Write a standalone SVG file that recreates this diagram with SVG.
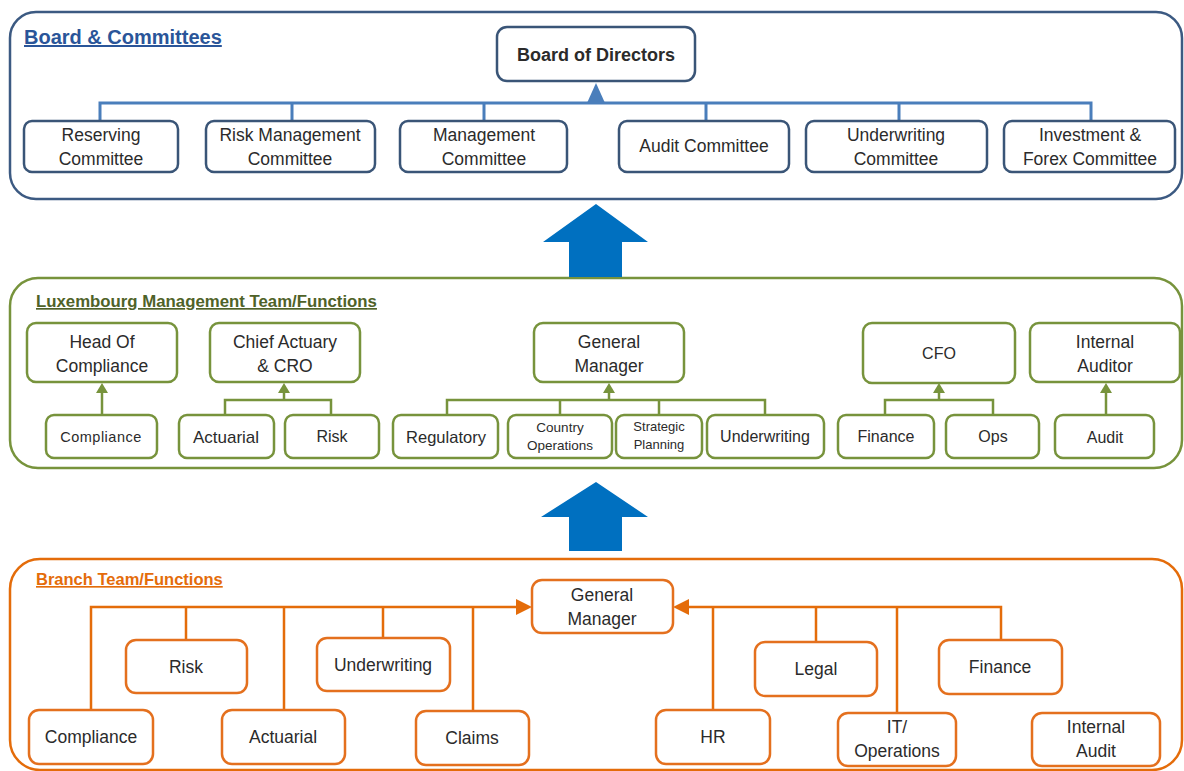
<svg xmlns="http://www.w3.org/2000/svg" width="1184" height="771" viewBox="0 0 1184 771">
<style>
text{font-family:"Liberation Sans",Arial,sans-serif;fill:#2b2b2b;text-anchor:middle}
.t{font-size:17.5px}
.s{font-size:16px}
.xs{font-size:13.5px}
.title{font-weight:bold;text-anchor:start;text-decoration:underline}
.cb{fill:none;stroke:#3c5a82;stroke-width:2.5}
.cg{fill:none;stroke:#77933c;stroke-width:2.5}
.co{fill:none;stroke:#e46c0a;stroke-width:2.5}
.nb rect{fill:#fff;stroke:#3a5577;stroke-width:2.5}
.ng rect{fill:#fff;stroke:#77933c;stroke-width:2.5}
.no rect{fill:#fff;stroke:#e4701e;stroke-width:2.5}
.lb{fill:none;stroke:#4a7ebb;stroke-width:3}
.lg{fill:none;stroke:#77933c;stroke-width:2.5}
.lo{fill:none;stroke:#e46c0a;stroke-width:2.5}
.big{fill:#0070c0}
</style>
<defs>
<marker id="ag" markerUnits="userSpaceOnUse" markerWidth="12" markerHeight="12" viewBox="0 0 10 12" refX="0" refY="6" orient="auto"><path d="M0,0 L10,6 L0,12 z" fill="#77933c"/></marker>
<marker id="ao" markerUnits="userSpaceOnUse" markerWidth="16" markerHeight="16" viewBox="0 0 16 16" refX="0" refY="8" orient="auto"><path d="M0,0 L16,8 L0,16 z" fill="#e46c0a"/></marker>
</defs>

<g id="containers">
<rect class="cb" x="10" y="12" width="1172" height="187" rx="26"/>
<rect class="cg" x="10" y="278" width="1172" height="190" rx="28"/>
<rect class="co" x="10" y="559" width="1172" height="211" rx="30"/>
<text class="title" x="24" y="44" style="font-size:20px;fill:#2a5599">Board &amp; Committees</text>
<text class="title" x="36" y="307" style="font-size:16.8px;fill:#4f6228">Luxembourg Management Team/Functions</text>
<text class="title" x="36" y="585" style="font-size:16.5px;fill:#e46c0a">Branch Team/Functions</text>
</g>

<g id="big-arrows">
<polygon class="big" points="596,204 543,242 569,242 569,277 622,277 622,242 648,242"/>
<polygon class="big" points="596,482 541,517 569,517 569,551 622,551 622,517 648,517"/>
</g>

<g id="connectors">
<path class="lb" d="M100,121 V103 H1091 V121 M292,103 V121 M484,103 V121 M706,103 V121 M899,103 V121"/>
<polygon points="587,103 605,103 596,83" fill="#4a7ebb"/>
<path class="lg" d="M102,415 V393" marker-end="url(#ag)"/>
<path class="lg" d="M225,415 V400 H331 V415"/>
<path class="lg" d="M284,400 V393" marker-end="url(#ag)"/>
<path class="lg" d="M447,415 V400 H765 V415 M560,400 V415 M659,400 V415"/>
<path class="lg" d="M609,400 V393" marker-end="url(#ag)"/>
<path class="lg" d="M885,415 V400 H993 V415"/>
<path class="lg" d="M939,400 V393" marker-end="url(#ag)"/>
<path class="lg" d="M1106,415 V393" marker-end="url(#ag)"/>
<path class="lo" d="M91,710 V607 H516" marker-end="url(#ao)"/>
<path class="lo" d="M186,607 V640 M284,607 V710 M383,607 V638 M473,607 V712"/>
<path class="lo" d="M1001,640 V607 H689" marker-end="url(#ao)"/>
<path class="lo" d="M713,607 V710 M816,607 V642 M897,607 V713"/>
</g>

<g id="board" class="nb"><rect x="497" y="27" width="198" height="54" rx="10"/><text x="596" y="61" style="font-size:18px;font-weight:bold">Board of Directors</text></g>
<g id="reserving" class="nb"><rect x="24" y="121" width="154" height="51" rx="8"/><text class="t" x="101" y="141">Reserving</text><text class="t" x="101" y="165">Committee</text></g>
<g id="riskmgmt" class="nb"><rect x="206" y="121" width="169" height="51" rx="8"/><text class="t" x="290" y="141">Risk Management</text><text class="t" x="290" y="165">Committee</text></g>
<g id="mgmt" class="nb"><rect x="400" y="121" width="167" height="51" rx="8"/><text class="t" x="484" y="141">Management</text><text class="t" x="484" y="165">Committee</text></g>
<g id="audit-comm" class="nb"><rect x="619" y="121" width="170" height="51" rx="8"/><text class="t" x="704" y="152">Audit Committee</text></g>
<g id="uw-comm" class="nb"><rect x="806" y="121" width="181" height="51" rx="8"/><text class="t" x="896" y="141">Underwriting</text><text class="t" x="896" y="165">Committee</text></g>
<g id="inv-comm" class="nb"><rect x="1004" y="121" width="171" height="51" rx="8"/><text class="t" x="1090" y="141">Investment &amp;</text><text class="t" x="1090" y="165">Forex Committee</text></g>

<g id="head-compliance" class="ng"><rect x="27" y="323" width="150" height="59" rx="9"/><text class="t" x="102" y="348">Head Of</text><text class="t" x="102" y="372">Compliance</text></g>
<g id="chief-actuary" class="ng"><rect x="210" y="323" width="150" height="59" rx="9"/><text class="t" x="285" y="348">Chief Actuary</text><text class="t" x="285" y="372">&amp; CRO</text></g>
<g id="lux-gm" class="ng"><rect x="534" y="323" width="150" height="59" rx="9"/><text class="t" x="609" y="348">General</text><text class="t" x="609" y="372">Manager</text></g>
<g id="cfo" class="ng"><rect x="863" y="323" width="152" height="60" rx="9"/><text class="s" x="939" y="359">CFO</text></g>
<g id="int-auditor" class="ng"><rect x="1030" y="323" width="150" height="59" rx="9"/><text class="t" x="1105" y="348">Internal</text><text class="t" x="1105" y="372">Auditor</text></g>
<g id="lux-compliance" class="ng"><rect x="46" y="415" width="111" height="43" rx="8"/><text x="101" y="442" style="font-size:14.5px;letter-spacing:0.5px">Compliance</text></g>
<g id="lux-actuarial" class="ng"><rect x="179" y="415" width="95" height="43" rx="8"/><text x="226" y="443" style="font-size:17px">Actuarial</text></g>
<g id="lux-risk" class="ng"><rect x="285" y="415" width="94" height="43" rx="8"/><text class="s" x="332" y="442">Risk</text></g>
<g id="lux-regulatory" class="ng"><rect x="393" y="415" width="105" height="43" rx="8"/><text x="446" y="443" style="font-size:16.5px">Regulatory</text></g>
<g id="lux-country" class="ng"><rect x="508" y="415" width="104" height="43" rx="8"/><text class="xs" x="560" y="432">Country</text><text class="xs" x="560" y="450">Operations</text></g>
<g id="lux-strategic" class="ng"><rect x="616" y="415" width="86" height="43" rx="8"/><text x="659" y="431" style="font-size:13px">Strategic</text><text x="659" y="449" style="font-size:13px">Planning</text></g>
<g id="lux-uw" class="ng"><rect x="707" y="415" width="117" height="43" rx="8"/><text class="s" x="765" y="442">Underwriting</text></g>
<g id="lux-finance" class="ng"><rect x="838" y="415" width="96" height="43" rx="8"/><text class="s" x="886" y="442">Finance</text></g>
<g id="lux-ops" class="ng"><rect x="946" y="415" width="93" height="43" rx="8"/><text class="s" x="993" y="442">Ops</text></g>
<g id="lux-audit" class="ng"><rect x="1055" y="415" width="99" height="43" rx="8"/><text class="s" x="1105" y="443">Audit</text></g>

<g id="br-gm" class="no"><rect x="532" y="580" width="141" height="53" rx="10"/><text class="t" x="602" y="601">General</text><text class="t" x="602" y="625">Manager</text></g>
<g id="br-risk" class="no"><rect x="126" y="640" width="121" height="53" rx="10"/><text class="t" x="186" y="673">Risk</text></g>
<g id="br-uw" class="no"><rect x="317" y="638" width="133" height="53" rx="10"/><text class="t" x="383" y="671">Underwriting</text></g>
<g id="br-compliance" class="no"><rect x="29" y="710" width="124" height="54" rx="10"/><text class="t" x="91" y="743">Compliance</text></g>
<g id="br-actuarial" class="no"><rect x="222" y="710" width="123" height="54" rx="10"/><text class="t" x="283" y="743">Actuarial</text></g>
<g id="br-claims" class="no"><rect x="416" y="711" width="113" height="54" rx="10"/><text class="t" x="472" y="744">Claims</text></g>
<g id="br-hr" class="no"><rect x="656" y="710" width="114" height="54" rx="10"/><text class="t" x="713" y="743">HR</text></g>
<g id="br-legal" class="no"><rect x="755" y="642" width="122" height="54" rx="10"/><text class="t" x="816" y="675">Legal</text></g>
<g id="br-it" class="no"><rect x="838" y="713" width="118" height="53" rx="10"/><text class="t" x="897" y="733">IT/</text><text class="t" x="897" y="757">Operations</text></g>
<g id="br-finance" class="no"><rect x="939" y="640" width="123" height="54" rx="10"/><text class="t" x="1000" y="673">Finance</text></g>
<g id="br-ia" class="no"><rect x="1032" y="713" width="128" height="53" rx="10"/><text class="t" x="1096" y="733">Internal</text><text class="t" x="1096" y="757">Audit</text></g>
</svg>
